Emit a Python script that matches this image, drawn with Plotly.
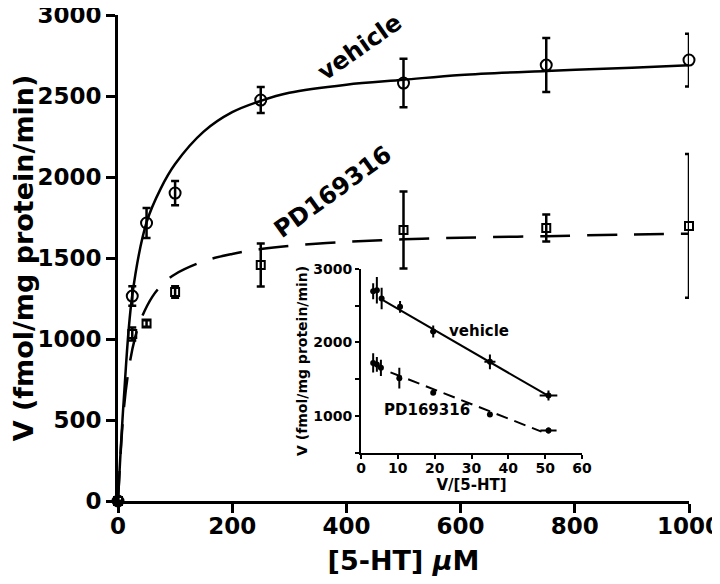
import plotly.graph_objects as go

# ---------------- data ----------------
conc = [0, 25, 50, 100, 250, 500, 750, 1000]
veh_v = [0, 1265, 1716, 1901, 2475, 2580, 2691, 2722]
veh_err = [0, 60, 93, 75, 80, 150, 167, 163]
pd_v = [0, 1031, 1095, 1290, 1457, 1673, 1685, 1698]
pd_err = [0, 40, 20, 35, 133, 238, 83, 444]

# fitted saturation curves
veh_fit_x = [0, 10, 25, 50, 75, 100, 150, 200, 250, 300, 400, 500, 600, 750, 900, 1000]
veh_fit_y = [0, 620, 1270, 1720, 1930, 2080, 2280, 2400, 2470, 2520, 2570, 2600, 2630, 2655, 2675, 2690]
pd_fit_x = [0, 10, 20, 30, 40, 60, 80, 100, 150, 200, 250, 300, 400, 500, 600, 750, 900, 1000]
pd_fit_y = [0, 560, 840, 1010, 1120, 1260, 1345, 1400, 1480, 1525, 1555, 1575, 1600, 1615, 1625, 1635, 1645, 1650]

# inset (Eadie-Hofstee) points
in_veh_x = [3.3, 4.3, 5.6, 10.6, 19.6, 35.0, 50.9]
in_veh_y = [2694, 2707, 2595, 2483, 2148, 1736, 1279]
in_veh_yerr = [110, 180, 145, 80, 80, 100, 67]
in_veh_xerr = [0.3, 0.4, 0.5, 0.6, 0.8, 1.5, 2.4]
in_pd_x = [3.3, 4.3, 5.4, 10.4, 19.6, 35.0, 50.9]
in_pd_y = [1722, 1701, 1655, 1515, 1316, 1022, 805]
in_pd_yerr = [130, 100, 110, 140, 30, 20, 40]
in_pd_xerr = [0.3, 0.3, 0.4, 0.6, 0.4, 0.4, 2.2]
in_veh_fit_x = [5, 51]
in_veh_fit_y = [2600, 1270]
in_pd_fit_x = [8, 49]
in_pd_fit_y = [1594, 790]

main_xticks = [0, 200, 400, 600, 800, 1000]
main_yticks = [0, 500, 1000, 1500, 2000, 2500, 3000]
in_xticks = [0, 10, 20, 30, 40, 50, 60]
in_yticks = [500, 1000, 1500, 2000, 2500, 3000]
in_yticktext = ["", "1000", "", "2000", "", "3000"]

FONT = "DejaVu Sans"
BLACK = "black"

fig = go.Figure()

# main fit curves
fig.add_trace(go.Scatter(x=veh_fit_x, y=veh_fit_y, mode="lines",
                         line=dict(color=BLACK, width=2.5, shape="spline"),
                         showlegend=False, cliponaxis=False))
fig.add_trace(go.Scatter(x=pd_fit_x, y=pd_fit_y, mode="lines",
                         line=dict(color=BLACK, width=2.5, shape="spline", dash="30px,17px"),
                         showlegend=False, cliponaxis=False))
# main data points
fig.add_trace(go.Scatter(x=conc, y=veh_v, mode="markers",
                         marker=dict(symbol="circle-open", size=11, color=BLACK, line=dict(width=2)),
                         error_y=dict(type="data", array=veh_err, color=BLACK, thickness=2.5, width=4),
                         showlegend=False, cliponaxis=False))
fig.add_trace(go.Scatter(x=conc, y=pd_v, mode="markers",
                         marker=dict(symbol="square-open", size=8, color=BLACK, line=dict(width=2)),
                         error_y=dict(type="data", array=pd_err, color=BLACK, thickness=2.5, width=4),
                         showlegend=False, cliponaxis=False))

# inset traces
fig.add_trace(go.Scatter(x=in_veh_fit_x, y=in_veh_fit_y, mode="lines", xaxis="x2", yaxis="y2",
                         line=dict(color=BLACK, width=2), showlegend=False))
fig.add_trace(go.Scatter(x=in_pd_fit_x, y=in_pd_fit_y, mode="lines", xaxis="x2", yaxis="y2",
                         line=dict(color=BLACK, width=2, dash="12px,7px"), showlegend=False))
fig.add_trace(go.Scatter(x=in_veh_x, y=in_veh_y, mode="markers", xaxis="x2", yaxis="y2",
                         marker=dict(symbol="circle", size=6, color=BLACK),
                         error_y=dict(type="data", array=in_veh_yerr, color=BLACK, thickness=2, width=0),
                         error_x=dict(type="data", array=in_veh_xerr, color=BLACK, thickness=2, width=0),
                         showlegend=False))
fig.add_trace(go.Scatter(x=in_pd_x, y=in_pd_y, mode="markers", xaxis="x2", yaxis="y2",
                         marker=dict(symbol="circle", size=6, color=BLACK),
                         error_y=dict(type="data", array=in_pd_yerr, color=BLACK, thickness=2, width=0),
                         error_x=dict(type="data", array=in_pd_xerr, color=BLACK, thickness=2, width=0),
                         showlegend=False))

bold = dict(family=FONT, color=BLACK, weight="bold")

# the page body adds an 8px offset, so margins are reduced accordingly
fig.update_layout(
    width=720, height=584,
    margin=dict(l=110, r=39, t=7, b=91, autoexpand=False),
    paper_bgcolor="white", plot_bgcolor="rgba(0,0,0,0)",
    xaxis=dict(range=[0, 1000], tickvals=main_xticks, showgrid=False, zeroline=False,
               automargin=False, ticklabeloverflow="allow",
               showline=True, linecolor=BLACK, linewidth=3,
               ticks="outside", ticklen=9, tickwidth=3, tickcolor=BLACK,
               ticklabelstandoff=-7,
               tickfont=dict(size=23, **bold),
               title=dict(text="[5-HT] <i>μ</i>M", font=dict(size=27, **bold), standoff=14)),
    yaxis=dict(range=[0, 3000], tickvals=main_yticks, showgrid=False, zeroline=False,
               automargin=False, ticklabeloverflow="allow",
               showline=True, linecolor=BLACK, linewidth=3,
               ticks="outside", ticklen=9, tickwidth=3, tickcolor=BLACK,
               tickfont=dict(size=23, **bold),
               title=dict(text="V (fmol/mg protein/min)", font=dict(size=27, **bold), standoff=8)),
    xaxis2=dict(domain=[0.4256, 0.8126], anchor="y2", range=[0, 60], tickvals=in_xticks,
                automargin=False,
                showgrid=False, zeroline=False, showline=True, linecolor=BLACK, linewidth=2,
                ticks="outside", ticklen=4, tickwidth=2, tickcolor=BLACK,
                ticklabelstandoff=-3,
                tickfont=dict(size=14, **bold),
                title=dict(text="V/[5-HT]", font=dict(size=15, **bold), standoff=2)),
    yaxis2=dict(domain=[0.0988, 0.478], anchor="x2", range=[500, 3000], tickvals=in_yticks,
                ticktext=in_yticktext, automargin=False,
                showgrid=False, zeroline=False, showline=True, linecolor=BLACK, linewidth=2,
                ticks="outside", ticklen=4, tickwidth=2, tickcolor=BLACK,
                tickfont=dict(size=14, **bold),
                title=dict(text="V (fmol/mg protein/min)", font=dict(size=14, **bold), standoff=2)),
    annotations=[
        dict(text="vehicle", x=424, y=2800, xref="x", yref="y", showarrow=False,
             textangle=-35, font=dict(size=24, **bold)),
        dict(text="PD169316", x=376, y=1907, xref="x", yref="y", showarrow=False,
             textangle=-36, font=dict(size=24, **bold)),
        dict(text="vehicle", x=32, y=2150, xref="x2", yref="y2", showarrow=False,
             font=dict(size=15, **bold)),
        dict(text="PD169316", x=18, y=1080, xref="x2", yref="y2", showarrow=False,
             font=dict(size=15, **bold)),
    ],
)

fig.write_html("out.html")
